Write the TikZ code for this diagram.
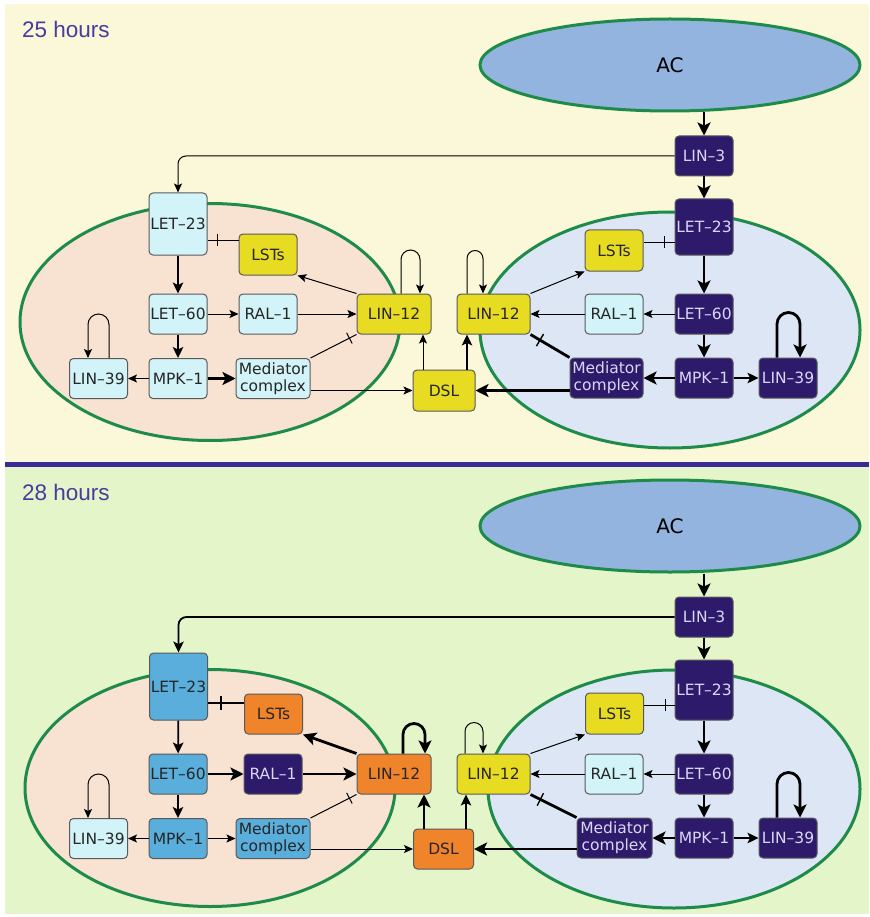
\documentclass[tikz,border=0pt]{standalone}
\usepackage{fontspec}
\setmainfont{DejaVu Sans}
\newfontfamily\hoursfont{Liberation Sans}
\usetikzlibrary{arrows.meta,shapes.geometric,decorations.markings}

\definecolor{bgtop}{HTML}{FAF8D8}
\definecolor{bgbot}{HTML}{E3F5C9}
\definecolor{peach}{HTML}{F8E2D2}
\definecolor{cellblue}{HTML}{DCE6F4}
\definecolor{acblue}{HTML}{93B4DE}
\definecolor{rim}{HTML}{1F8B4A}
\definecolor{dpurple}{HTML}{2D1A6B}
\definecolor{ltext}{HTML}{DAD6F6}
\definecolor{pcyan}{HTML}{D2F3F7}
\definecolor{yel}{HTML}{E8DC22}
\definecolor{orng}{HTML}{F0842A}
\definecolor{mblue}{HTML}{5AAEDC}
\definecolor{hours}{HTML}{4A3B9E}
\definecolor{sepline}{HTML}{3A2A96}

\tikzset{
  box/.style={draw=black!65, line width=1pt, rounded corners=4pt, inner sep=0pt,
    minimum width=58pt, minimum height=40pt, align=center, text=black!85,
    font=\fontsize{15.5}{17}\selectfont},
  dk/.style={box, fill=dpurple, text=ltext},
  cy/.style={box, fill=pcyan},
  ye/.style={box, fill=yel},
  og/.style={box, fill=orng},
  bl/.style={box, fill=mblue},
  wide/.style={minimum width=74pt},
  cell/.style={ellipse, draw=rim, line width=3pt, inner sep=0pt},
  actor/.style={ellipse, draw=rim, line width=3pt, fill=acblue, minimum width=380pt,
    minimum height=92pt, font=\fontsize{20}{22}\selectfont},
  hourlabel/.style={anchor=base west, text=hours, inner sep=0pt,
    font=\hoursfont\fontsize{22.5}{26}\selectfont},
  e1/.style={line width=1pt, -{Stealth[length=9pt,width=8pt,inset=2pt]}},
  e2/.style={line width=1.8pt, -{Stealth[length=11pt,width=10.5pt,inset=2.5pt]}},
  e3/.style={line width=2.8pt, -{Stealth[length=13pt,width=13pt,inset=3pt]}},
  t1/.style={line width=1pt},
  t3/.style={line width=2.8pt},
  inh/.style={postaction={decorate}, decoration={markings,
    mark=at position -#1 with {\draw[line width=1pt] (0,-6pt) -- (0,6pt);}}},
  inhb/.style={postaction={decorate}, decoration={markings,
    mark=at position -#1 with {\draw[line width=1.4pt] (0,-7pt) -- (0,7pt);}}},
}

\begin{document}
\begin{tikzpicture}[x=1pt,y=-1pt]
\useasboundingbox (0,0) rectangle (869,917);
\fill[white] (0,0) rectangle (869,917);
\fill[bgtop] (5,4) rectangle (869,462);
\fill[sepline] (5,462) rectangle (869,466.5);
\fill[bgbot] (5,466.5) rectangle (869,914);

% ===================== 25 hours =====================
\node[hourlabel] (titleA) at (22,38) {25 hours};

\node[cell, fill=peach, minimum width=380pt, minimum height=237pt] (cellLA) at (210,322) {};
\node[cell, fill=cellblue, minimum width=380pt, minimum height=236pt] (cellRA) at (670,330) {};
\node[actor] (ACA) at (670,65) {AC};

% anchor cell
\node[dk] (LIN3A) at (704,156) {LIN–3};
\node[dk, minimum height=56pt] (LET23RA) at (704,227) {LET–23};
\node[ye, minimum height=41pt] (LSTsRA) at (614,250.5) {LSTs};
\node[dk] (LET60RA) at (704,314) {LET–60};
\node[cy] (RAL1RA) at (614,314) {RAL–1};
\node[ye, minimum width=73pt] (LIN12RA) at (493.5,314) {LIN–12};
\node[dk, minimum width=73pt] (MedRA) at (606.5,378) {Mediator\\complex};
\node[dk] (MPK1RA) at (704,378) {MPK–1};
\node[dk] (LIN39RA) at (788,378) {LIN–39};
\node[ye, minimum width=62pt, minimum height=41pt] (DSLA) at (444,390.5) {DSL};

% neighbouring cell
\node[cy, minimum height=62pt] (LET23LA) at (178,224) {LET–23};
\node[ye, minimum height=41pt] (LSTsLA) at (268,254.5) {LSTs};
\node[cy] (LET60LA) at (178,314) {LET–60};
\node[cy] (RAL1LA) at (268,314) {RAL–1};
\node[ye, wide] (LIN12LA) at (394,314) {LIN–12};
\node[cy] (LIN39LA) at (98.5,378.5) {LIN–39};
\node[cy] (MPK1LA) at (178,378.5) {MPK–1};
\node[cy, wide] (MedLA) at (273,378.5) {Mediator\\complex};

% signalling from the anchor cell
\draw[e3] (LIN3A |- ACA.south) -- (LIN3A.north);
\draw[e3] (LIN3A) -- (LET23RA);
\draw[e1, rounded corners=8pt] (LIN3A.west) -| (LET23LA.north);

% right cell
\draw[e3] (LET23RA) -- (LET60RA);
\draw[e3] (LET60RA) -- (MPK1RA);
\draw[e1] (LET60RA) -- (RAL1RA);
\draw[e1] (RAL1RA) -- (LIN12RA);
\draw[t1, inh=10pt] (LSTsRA.east |- 0,242) -- (LET23RA.west |- 0,242);
\draw[e1] (LIN12RA.north east) -- (LSTsRA.south west);
\draw[t3, inhb=11pt] (MedRA.north west) -- (LIN12RA.south east);
\draw[e3] (MedRA.west |- DSLA.east) -- (DSLA.east);
\draw[e3] (MPK1RA) -- (MedRA);
\draw[e2] (MPK1RA) -- (LIN39RA);
\draw[e3] ([xshift=-11pt]LIN39RA.north) -- ++(0,-33.5) arc[start angle=180,end angle=0,radius=11.5pt] -- ([xshift=12pt]LIN39RA.north);
\draw[e1] ([xshift=-26.5pt]LIN12RA.north) -- ++(0,-35) arc[start angle=180,end angle=0,radius=8pt] -- ([xshift=-10.5pt]LIN12RA.north);

% left cell
\draw[e2] (LET23LA) -- (LET60LA);
\draw[e2] (LET60LA) -- (MPK1LA);
\draw[e1] (LET60LA) -- (RAL1LA);
\draw[e1] (RAL1LA) -- (LIN12LA);
\draw[t1, inh=10pt] (LSTsLA.west |- 0,240) -- (LET23LA.east |- 0,240);
\draw[e1] (LIN12LA.north west) -- (LSTsLA.south east);
\draw[t1, inh=8pt] (MedLA.north east) -- (LIN12LA.south west);
\draw[e1] (MedLA.east |- DSLA.west) -- (DSLA.west);
\draw[e3] (MPK1LA) -- (MedLA);
\draw[e1] (MPK1LA) -- (LIN39LA);
\draw[e1] ([xshift=10.5pt]LIN39LA.north) -- ++(0,-33.5) arc[start angle=0,end angle=180,radius=10.5pt] -- ([xshift=-10.5pt]LIN39LA.north);
\draw[e1] ([xshift=7pt]LIN12LA.north) -- ++(0,-34) arc[start angle=180,end angle=0,radius=9.5pt] -- ([xshift=26pt]LIN12LA.north);

% DSL to both LIN-12
\draw[e1] ([xshift=-21pt]DSLA.north) -- ([xshift=-21pt]DSLA.north |- LIN12LA.south);
\draw[e2] ([xshift=23pt]DSLA.north) -- ([xshift=23pt]DSLA.north |- LIN12RA.south);

% ===================== 28 hours =====================
\node[hourlabel] (titleB) at (22,500) {28 hours};

\node[cell, fill=peach, minimum width=370pt, minimum height=237pt] (cellLB) at (210,788) {};
\node[cell, fill=cellblue, minimum width=372pt, minimum height=238pt] (cellRB) at (674,789) {};
\node[actor] (ACB) at (670,526) {AC};

% anchor cell
\node[dk] (LIN3B) at (704,617) {LIN–3};
\node[dk, minimum height=60pt] (LET23RB) at (704,690) {LET–23};
\node[ye, minimum height=41pt] (LSTsRB) at (614.5,713.5) {LSTs};
\node[dk] (LET60RB) at (704,774) {LET–60};
\node[cy] (RAL1RB) at (614,774) {RAL–1};
\node[ye, minimum width=73pt] (LIN12RB) at (493.5,774) {LIN–12};
\node[dk, minimum width=75pt] (MedRB) at (614.5,838) {Mediator\\complex};
\node[dk] (MPK1RB) at (704,838) {MPK–1};
\node[dk] (LIN39RB) at (788,838) {LIN–39};
\node[og, minimum width=60pt] (DSLB) at (443.5,849) {DSL};

% neighbouring cell
\node[bl, minimum height=67pt] (LET23LB) at (178.5,686.5) {LET–23};
\node[og] (LSTsLB) at (273.5,714) {LSTs};
\node[bl] (LET60LB) at (178,774) {LET–60};
\node[dk] (RAL1LB) at (273,774) {RAL–1};
\node[og, wide] (LIN12LB) at (394,774) {LIN–12};
\node[cy] (LIN39LB) at (98.5,838.5) {LIN–39};
\node[bl] (MPK1LB) at (178,838.5) {MPK–1};
\node[bl, wide] (MedLB) at (273,838.5) {Mediator\\complex};

% signalling from the anchor cell
\draw[e3] (LIN3B |- ACB.south) -- (LIN3B.north);
\draw[e3] (LIN3B) -- (LET23RB);
\draw[e2, rounded corners=8pt] (LIN3B.west) -| (LET23LB.north);

% right cell
\draw[e3] (LET23RB) -- (LET60RB);
\draw[e3] (LET60RB) -- (MPK1RB);
\draw[e1] (LET60RB) -- (RAL1RB);
\draw[e1] (RAL1RB) -- (LIN12RB);
\draw[t1, inh=9pt] (LSTsRB.east |- 0,705) -- (LET23RB.west |- 0,705);
\draw[e1] (LIN12RB.north east) -- (LSTsRB.south west);
\draw[t3, inhb=11pt] (MedRB.north west) -- (LIN12RB.south east);
\draw[e3] (MedRB.west |- DSLB.east) -- (DSLB.east);
\draw[e3] (MPK1RB) -- (MedRB);
\draw[e2] (MPK1RB) -- (LIN39RB);
\draw[e3] ([xshift=-11pt]LIN39RB.north) -- ++(0,-33.5) arc[start angle=180,end angle=0,radius=11.5pt] -- ([xshift=12pt]LIN39RB.north);
\draw[e1] ([xshift=-28.5pt]LIN12RB.north) -- ++(0,-22) arc[start angle=180,end angle=0,radius=9pt] -- ([xshift=-10.5pt]LIN12RB.north);

% left cell
\draw[e2] (LET23LB) -- (LET60LB);
\draw[e2] (LET60LB) -- (MPK1LB);
\draw[e3] (LET60LB) -- (RAL1LB);
\draw[e3] (RAL1LB) -- (LIN12LB);
\draw[t3, inhb=13pt] (LSTsLB.west |- 0,703) -- (LET23LB.east |- 0,703);
\draw[e3] (LIN12LB.north west) -- (LSTsLB.south east);
\draw[t1, inh=8pt] (MedLB.north east) -- (LIN12LB.south west);
\draw[e1] (MedLB.east |- DSLB.west) -- (DSLB.west);
\draw[e1] (MPK1LB) -- (MedLB);
\draw[e1] (MPK1LB) -- (LIN39LB);
\draw[e1] ([xshift=10.5pt]LIN39LB.north) -- ++(0,-33.5) arc[start angle=0,end angle=180,radius=10.5pt] -- ([xshift=-10.5pt]LIN39LB.north);
\draw[e3] ([xshift=9pt]LIN12LB.north) -- ++(0,-19) arc[start angle=180,end angle=0,radius=11pt] -- ([xshift=31pt]LIN12LB.north);

% DSL to both LIN-12
\draw[e3] ([xshift=-19.5pt]DSLB.north) -- ([xshift=-19.5pt]DSLB.north |- LIN12LB.south);
\draw[e2] ([xshift=22.5pt]DSLB.north) -- ([xshift=22.5pt]DSLB.north |- LIN12RB.south);
\end{tikzpicture}
\end{document}
